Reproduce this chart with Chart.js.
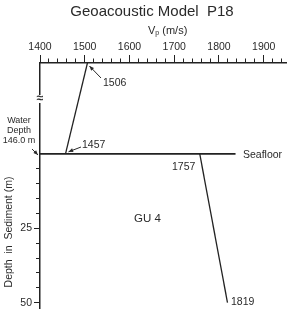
<!DOCTYPE html>
<html>
<head>
<meta charset="utf-8">
<script src="https://cdn.jsdelivr.net/npm/chart.js@4"></script>
<style>
  html, body { margin: 0; padding: 0; background: #fff; }
</style>
</head>
<body>
<canvas id="chart" width="287" height="317"></canvas>
<script>
// velocity profile (m/s) vs depth (m, negative = water column above seafloor)
const waterVp = [1506, 1457];
const waterDepth = [-30.5, 0];
const sedimentVp = [1757, 1819];
const sedimentDepth = [0, 50];
const seafloorVp = [1400, 1837];
const seafloorDepth = [0, 0];
const vpTicks = [1400, 1500, 1600, 1700, 1800, 1900];
const depthTicks = [25, 50];

const INK = "#222";
const TEXT = "#2a2a2a";
const FONT = "'Liberation Sans', Arial, sans-serif";
const NONE = "rgba(0,0,0,0)";

const toPoints = (xs, ys) => xs.map((x, i) => ({ x: x, y: ys[i] }));

const arrow = (ctx, x1, y1, x2, y2) => {
  const a = Math.atan2(y2 - y1, x2 - x1);
  ctx.beginPath();
  ctx.moveTo(x1, y1);
  ctx.lineTo(x2, y2);
  ctx.stroke();
  ctx.beginPath();
  ctx.moveTo(x2, y2);
  ctx.lineTo(x2 - 5 * Math.cos(a - 0.4), y2 - 5 * Math.sin(a - 0.4));
  ctx.lineTo(x2 - 5 * Math.cos(a + 0.4), y2 - 5 * Math.sin(a + 0.4));
  ctx.closePath();
  ctx.fill();
};

const labels = {
  id: "labels",
  afterDraw(chart) {
    const ctx = chart.ctx;
    const x = chart.scales.x;
    const y = chart.scales.y;
    ctx.save();
    ctx.fillStyle = TEXT;
    ctx.strokeStyle = TEXT;
    ctx.lineWidth = 1;
    ctx.textBaseline = "middle";

    // title
    ctx.textAlign = "center";
    ctx.font = "15px " + FONT;
    ctx.fillText("Geoacoustic Model  P18", 152, 12);

    // Vp (m/s)
    ctx.textAlign = "left";
    ctx.font = "11px " + FONT;
    ctx.fillText("V", 148, 31);
    const vw = ctx.measureText("V").width;
    ctx.font = "7px " + FONT;
    ctx.fillText("p", 148 + vw, 33);
    const pw = ctx.measureText("p").width;
    ctx.font = "11px " + FONT;
    ctx.fillText(" (m/s)", 148 + vw + pw, 31);

    // axis break
    ctx.fillStyle = "#fff";
    ctx.fillRect(35, 95, 10, 8);
    ctx.fillStyle = TEXT;
    ctx.textAlign = "center";
    ctx.font = "bold 12px " + FONT;
    ctx.fillText("\u2248", 40, 99);

    // water depth note
    ctx.font = "9px " + FONT;
    ctx.fillText("Water", 19, 121);
    ctx.fillText("Depth", 19, 131);
    ctx.fillText("146.0 m", 19, 141);
    arrow(ctx, 32, 149, 38, 155);

    // value labels
    ctx.textAlign = "left";
    ctx.font = "10.5px " + FONT;
    ctx.fillText("1506", 103, 83);
    arrow(ctx, 101, 78, x.getPixelForValue(waterVp[0]) + 2, y.getPixelForValue(waterDepth[0]) + 3);
    ctx.fillText("1457", 82, 145);
    arrow(ctx, 81, 147, x.getPixelForValue(waterVp[1]) + 3, y.getPixelForValue(waterDepth[1]) - 2);
    ctx.fillText("Seafloor", 243, 155);
    ctx.fillText("1757", 172, 167);
    ctx.fillText("1819", 231, 302);
    ctx.font = "11.5px " + FONT;
    ctx.fillText("GU 4", 134, 219);

    // y title
    ctx.translate(9, 232);
    ctx.rotate(-Math.PI / 2);
    ctx.textAlign = "center";
    ctx.font = "10.5px " + FONT;
    ctx.fillText("Depth  in  Sediment (m)", 0, 0);
    ctx.restore();
  }
};

const lineSet = (data, width) => ({
  data: data,
  showLine: true,
  borderColor: INK,
  borderWidth: width,
  pointRadius: 0,
  fill: false
});

const tickFont = { size: 10.5, family: FONT };

new Chart(document.getElementById("chart"), {
  type: "scatter",
  data: {
    datasets: [
      lineSet(toPoints(seafloorVp, seafloorDepth), 1.6),
      lineSet(toPoints(waterVp, waterDepth), 1.3),
      lineSet(toPoints(sedimentVp, sedimentDepth), 1.3)
    ]
  },
  options: {
    responsive: false,
    animation: false,
    layout: { padding: { top: 41, left: 0, right: 0, bottom: 0 } },
    plugins: { legend: { display: false }, tooltip: { enabled: false } },
    scales: {
      // major Vp ticks with labels
      x: {
        type: "linear",
        position: "top",
        weight: 1,
        min: 1400,
        max: 1952,
        afterFit: (s) => { s.height = 22; },
        ticks: {
          stepSize: 100,
          includeBounds: false,
          autoSkip: false,
          maxRotation: 0,
          padding: 2,
          color: TEXT,
          font: tickFont,
          callback: (v) => (vpTicks.includes(v) ? String(v) : "")
        },
        grid: { drawOnChartArea: false, tickLength: 8, tickWidth: 1, tickColor: INK },
        border: { color: INK, width: 1.5 }
      },
      // minor Vp ticks
      x2: {
        type: "linear",
        position: "top",
        weight: 0,
        min: 1400,
        max: 1952,
        afterFit: (s) => { s.height = 0; },
        ticks: { stepSize: 20, includeBounds: false, autoSkip: false, display: false },
        grid: { drawOnChartArea: false, tickLength: 4.5, tickWidth: 1, tickColor: INK },
        border: { display: false }
      },
      // depth ticks with labels
      y: {
        type: "linear",
        position: "left",
        weight: 1,
        reverse: true,
        min: -30.5,
        max: 52,
        afterFit: (s) => { s.width = 40; },
        ticks: {
          stepSize: 25,
          includeBounds: false,
          autoSkip: false,
          padding: 2,
          color: TEXT,
          font: tickFont,
          callback: (v) => (depthTicks.includes(v) ? String(v) : "")
        },
        grid: {
          drawOnChartArea: false,
          tickLength: 6,
          tickWidth: 1,
          tickColor: (c) => (c.tick && c.tick.value > 0 ? INK : NONE)
        },
        border: { color: INK, width: 1.5 }
      },
      // minor depth ticks
      y2: {
        type: "linear",
        position: "left",
        weight: 0,
        reverse: true,
        min: -30.5,
        max: 52,
        afterFit: (s) => { s.width = 0; },
        ticks: { stepSize: 5, includeBounds: false, autoSkip: false, display: false },
        grid: {
          drawOnChartArea: false,
          tickLength: 4,
          tickWidth: 1,
          tickColor: (c) => (c.tick && c.tick.value > 0 ? INK : NONE)
        },
        border: { display: false }
      }
    }
  },
  plugins: [labels]
});
</script>
</body>
</html>
